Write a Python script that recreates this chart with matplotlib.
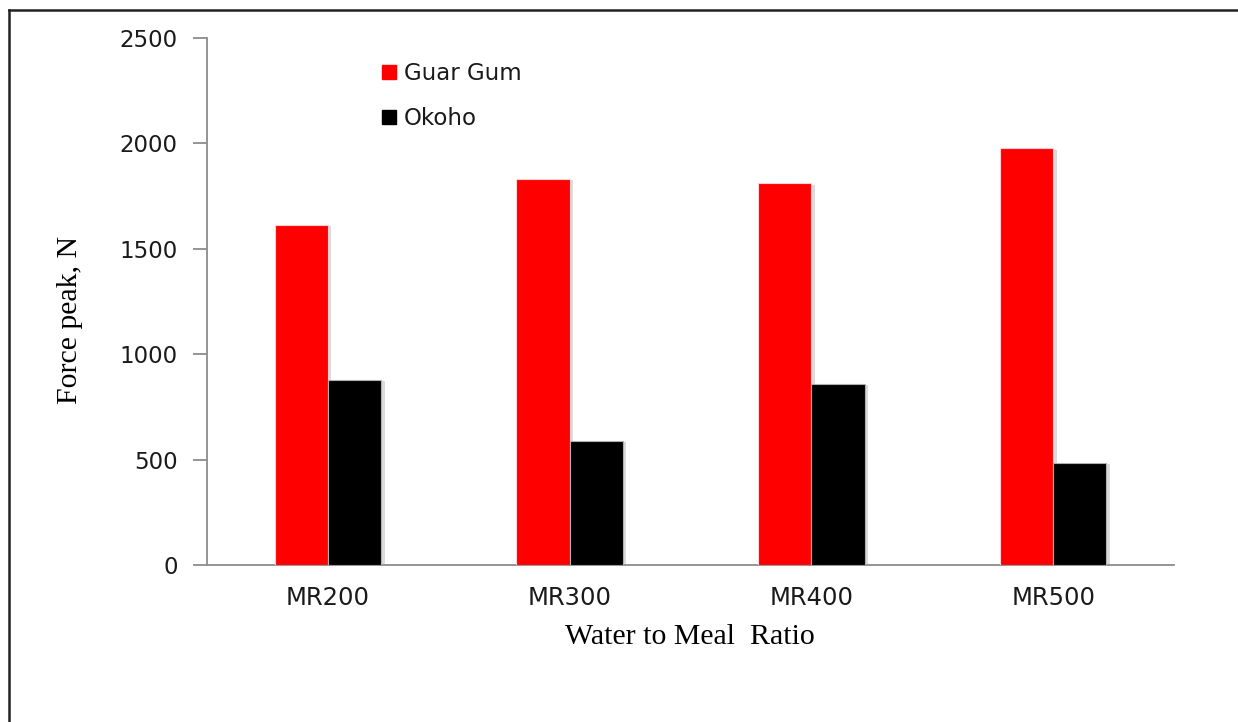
import matplotlib
matplotlib.use("Agg")
import matplotlib.pyplot as plt
import matplotlib.patheffects as pe
from matplotlib.lines import Line2D
import numpy as np

categories = ["MR200", "MR300", "MR400", "MR500"]
guar_gum = [1613, 1832, 1811, 1977]
okoho = [878, 588, 859, 485]
series_names = ["Guar Gum", "Okoho"]
yticks = [0, 500, 1000, 1500, 2000, 2500]

W, H = 1238, 722
fig = plt.figure(figsize=(W / 100, H / 100), dpi=100)
ax = fig.add_axes([207 / W, 1 - 565 / H, (1174 - 207) / W, (565 - 38) / H])

x = np.arange(len(categories))
bw = 0.22
shadow = [pe.SimplePatchShadow(offset=(2.5, -1), shadow_rgbFace="#999999", alpha=0.35), pe.Normal()]
b1 = ax.bar(x - bw / 2, guar_gum, bw, color="#ff0000", edgecolor="#ffd0d0", linewidth=0.8, zorder=3)
b2 = ax.bar(x + bw / 2, okoho, bw, color="#000000", edgecolor="#b0b0b0", linewidth=0.8, zorder=3)
for b in list(b1) + list(b2):
    b.set_path_effects(shadow)

ax.set_xlim(-0.5, len(categories) - 0.5)
ax.set_ylim(0, 2500)
ax.set_yticks(yticks)
ax.set_xticks(x)
ax.set_xticklabels(categories)

for s in ["top", "right"]:
    ax.spines[s].set_visible(False)
for s in ["left", "bottom"]:
    ax.spines[s].set_color("#8c8c8c")
    ax.spines[s].set_linewidth(1.3)

ax.tick_params(axis="y", length=10, width=1.3, color="#8c8c8c", pad=11,
               labelsize=16.5, labelcolor="#1a1a1a")
ax.tick_params(axis="x", length=0, pad=15, labelsize=17.5, labelcolor="#1a1a1a")

ax.set_ylabel("Force peak, N", family="Liberation Serif", fontsize=21.5, labelpad=0)
ax.yaxis.set_label_coords(-0.128, 0.465)
ax.set_xlabel("Water to Meal  Ratio", family="Liberation Serif", fontsize=21.5)
ax.xaxis.set_label_coords(0.499, -0.112)

handles = [Line2D([], [], marker="s", linestyle="", markersize=9.5, color="#ff0000"),
           Line2D([], [], marker="s", linestyle="", markersize=9.5, color="#000000")]
ax.legend(handles, series_names, loc="upper left", bbox_to_anchor=(0.157, 0.993),
          frameon=False, fontsize=16.5, handlelength=0.8, handletextpad=0.25,
          labelspacing=0.95, labelcolor="#1a1a1a")

# outer frame around the figure
fig.add_artist(Line2D([9 / W, 9 / W], [0, 1 - 10 / H], color="#222222", linewidth=1.8))
fig.add_artist(Line2D([9 / W, 1], [1 - 10 / H, 1 - 10 / H], color="#222222", linewidth=1.8))

fig.savefig("out.png", dpi=100)
